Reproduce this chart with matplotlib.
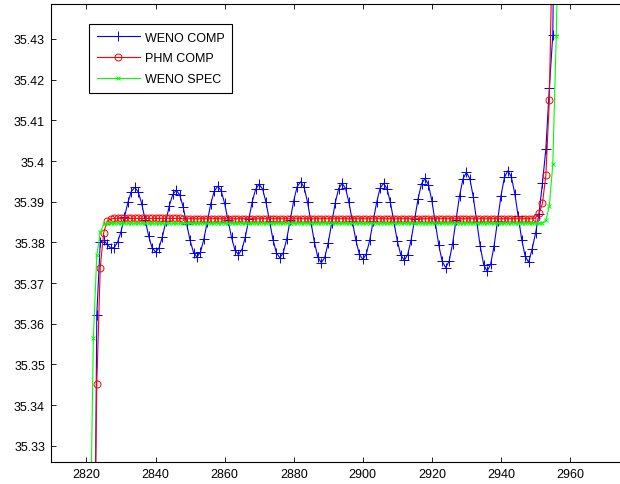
import numpy as np
import matplotlib
matplotlib.use('Agg')
import matplotlib.pyplot as plt

# sample positions start at these x values, one sample per unit
blue_start = 2821
red_start = 2822
green_start = 2821

weno_comp = [
    35.10, 35.25, 35.3621, 35.3800, 35.3805, 35.3795, 35.3786, 35.3787,
    35.3800, 35.3826, 35.3862, 35.3898, 35.3925, 35.3935,
    35.3924, 35.3895, 35.3856, 35.3816, 35.3787, 35.3776,
    35.3786, 35.3814, 35.3852, 35.3890, 35.3918, 35.3928,
    35.3917, 35.3887, 35.3846, 35.3805, 35.3775, 35.3764,
    35.3776, 35.3808, 35.3851, 35.3895, 35.3926, 35.3938,
    35.3927, 35.3896, 35.3854, 35.3812, 35.3781, 35.3770,
    35.3782, 35.3813, 35.3857, 35.3900, 35.3931, 35.3943,
    35.3931, 35.3898, 35.3853, 35.3807, 35.3774, 35.3762,
    35.3775, 35.3809, 35.3856, 35.3902, 35.3937, 35.3949,
    35.3936, 35.3899, 35.3850, 35.3800, 35.3763, 35.3750,
    35.3763, 35.3799, 35.3848, 35.3896, 35.3932, 35.3945,
    35.3933, 35.3898, 35.3852, 35.3805, 35.3771, 35.3758,
    35.3771, 35.3805, 35.3852, 35.3898, 35.3933, 35.3945,
    35.3932, 35.3898, 35.3851, 35.3803, 35.3769, 35.3756,
    35.3770, 35.3806, 35.3857, 35.3907, 35.3944, 35.3957,
    35.3942, 35.3902, 35.3848, 35.3793, 35.3753, 35.3738,
    35.3754, 35.3797, 35.3855, 35.3914, 35.3956, 35.3972,
    35.3956, 35.3911, 35.3851, 35.3790, 35.3745, 35.3729,
    35.3746, 35.3791, 35.3853, 35.3914, 35.3960, 35.3976,
    35.3961, 35.3920, 35.3864, 35.3807, 35.3766, 35.3751,
    35.3783, 35.3822, 35.3870, 35.3945, 35.4030, 35.4180, 35.4310, 35.5000,
]

phm_comp = [
    35.282, 35.3451, 35.3738, 35.3824, 35.3852, 35.3857,
    35.3859, 35.3859, 35.3859, 35.3859, 35.3859, 35.3859, 35.3859, 35.3859, 35.3859, 35.3859,
    35.3859, 35.3859, 35.3859, 35.3859, 35.3859, 35.3859, 35.3859, 35.3859, 35.3859, 35.3859,
    35.3858, 35.3858, 35.3858, 35.3858, 35.3858, 35.3858, 35.3858, 35.3858, 35.3858, 35.3858,
    35.3858, 35.3858, 35.3858, 35.3858, 35.3858, 35.3858, 35.3858, 35.3858, 35.3858, 35.3858,
    35.3858, 35.3858, 35.3858, 35.3858, 35.3858, 35.3858, 35.3858, 35.3858, 35.3858, 35.3858,
    35.3858, 35.3858, 35.3858, 35.3858, 35.3858, 35.3858, 35.3858, 35.3858, 35.3858, 35.3858,
    35.3858, 35.3858, 35.3858, 35.3858, 35.3858, 35.3858, 35.3858, 35.3858, 35.3858, 35.3858,
    35.3858, 35.3858, 35.3858, 35.3858, 35.3858, 35.3858, 35.3858, 35.3858, 35.3858, 35.3858,
    35.3858, 35.3858, 35.3858, 35.3858, 35.3858, 35.3858, 35.3858, 35.3858, 35.3858, 35.3858,
    35.3858, 35.3858, 35.3858, 35.3858, 35.3858, 35.3858, 35.3858, 35.3858, 35.3858, 35.3858,
    35.3858, 35.3858, 35.3858, 35.3858, 35.3858, 35.3858, 35.3858, 35.3858, 35.3858, 35.3858,
    35.3858, 35.3858, 35.3858, 35.3858, 35.3858, 35.3858, 35.3858, 35.3858, 35.3858, 35.3858,
    35.3858, 35.3858, 35.3860,
    35.3871, 35.3896, 35.3965, 35.4150, 35.4600,
]

weno_spec = [
    35.300, 35.3564, 35.3768, 35.3825, 35.3844,
    35.3847, 35.3847, 35.3847, 35.3847, 35.3847, 35.3847, 35.3847, 35.3847, 35.3847, 35.3847,
    35.3847, 35.3847, 35.3847, 35.3847, 35.3847, 35.3847, 35.3847, 35.3847, 35.3847, 35.3847,
    35.3847, 35.3847, 35.3847, 35.3847, 35.3847, 35.3847, 35.3847, 35.3847, 35.3847, 35.3847,
    35.3847, 35.3847, 35.3847, 35.3847, 35.3847, 35.3847, 35.3847, 35.3847, 35.3847, 35.3847,
    35.3847, 35.3847, 35.3847, 35.3847, 35.3847, 35.3847, 35.3847, 35.3847, 35.3847, 35.3847,
    35.3847, 35.3847, 35.3847, 35.3847, 35.3847, 35.3847, 35.3847, 35.3847, 35.3847, 35.3847,
    35.3847, 35.3847, 35.3847, 35.3847, 35.3847, 35.3847, 35.3847, 35.3847, 35.3847, 35.3847,
    35.3847, 35.3847, 35.3847, 35.3847, 35.3847, 35.3847, 35.3847, 35.3847, 35.3847, 35.3847,
    35.3847, 35.3847, 35.3847, 35.3847, 35.3847, 35.3847, 35.3847, 35.3847, 35.3847, 35.3847,
    35.3847, 35.3847, 35.3847, 35.3847, 35.3847, 35.3847, 35.3847, 35.3847, 35.3847, 35.3847,
    35.3847, 35.3847, 35.3847, 35.3847, 35.3847, 35.3847, 35.3847, 35.3847, 35.3847, 35.3847,
    35.3847, 35.3847, 35.3847, 35.3847, 35.3847, 35.3847, 35.3847, 35.3847, 35.3847, 35.3847,
    35.3847, 35.3847, 35.3847, 35.3847, 35.3847, 35.3847, 35.3848,
    35.3854, 35.3889, 35.3992, 35.4308, 35.4700,
]

x_ticks = [2820, 2840, 2860, 2880, 2900, 2920, 2940, 2960]
y_ticks = [35.33, 35.34, 35.35, 35.36, 35.37, 35.38, 35.39, 35.40, 35.41, 35.42, 35.43]

plt.rcParams['font.family'] = ['Liberation Sans', 'DejaVu Sans']

fig = plt.figure(figsize=(6.2, 4.85), dpi=100)
# axes run past the right edge of the figure
ax = fig.add_axes([50.5 / 620, 22 / 485, 623.2 / 620, 458 / 485])

bx = np.arange(blue_start, blue_start + len(weno_comp))
rx = np.arange(red_start, red_start + len(phm_comp))
gx = np.arange(green_start, green_start + len(weno_spec))

ax.plot(bx, weno_comp, color='#0000ff', lw=0.8, marker='+', ms=6.5, mew=0.7, label='WENO COMP')
ax.plot(rx, phm_comp, color='#ff0000', lw=0.8, marker='o', ms=5, mew=0.7, mfc='none', label='PHM COMP')
ax.plot(gx, weno_spec, color='#00ff00', lw=0.8, marker='x', ms=3.5, mew=0.7, label='WENO SPEC')

ax.set_xlim(2809.6, 2990)
ax.set_ylim(35.326, 35.4386)
ax.set_xticks(x_ticks)
ax.set_yticks(y_ticks)
ax.set_yticklabels([f'{round(v, 2):g}' for v in y_ticks])

ax.tick_params(direction='in', top=True, right=True, length=3.5, width=0.6,
               labelsize=9, colors='black', pad=4)
for s in ax.spines.values():
    s.set_linewidth(0.8)

leg = ax.legend(loc='upper left', bbox_to_anchor=(0.0618, 0.9563), borderaxespad=0,
                fancybox=False, framealpha=1, edgecolor='black', fontsize=9,
                handlelength=3.5, handletextpad=0.35, labelspacing=0.7, borderpad=0.6)
leg.get_frame().set_linewidth(0.8)

fig.savefig('out.png', dpi=100)
